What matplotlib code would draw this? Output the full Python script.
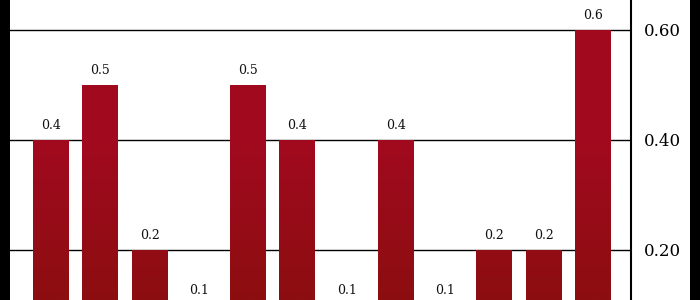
import matplotlib
matplotlib.use("Agg")
import matplotlib.pyplot as plt
import numpy as np
from matplotlib.colors import LinearSegmentedColormap
from matplotlib.patches import Rectangle

values = [0.4, 0.5, 0.2, 0.1, 0.5, 0.4, 0.1, 0.4, 0.1, 0.2, 0.2, 0.6]
labels = ["0.4", "0.5", "0.2", "0.1", "0.5", "0.4", "0.1", "0.4", "0.1", "0.2", "0.2", "0.6"]
yticks = [0.20, 0.40, 0.60]
ytick_labels = ["0.20", "0.40", "0.60"]

plt.rcParams['font.family'] = ['DejaVu Serif']

fig = plt.figure(figsize=(7, 3), dpi=100)
fig.patch.set_facecolor("black")
fig.add_artist(Rectangle((10/700, 0), 680/700, 1, transform=fig.transFigure,
                         facecolor="white", edgecolor="none", zorder=0))

ax = fig.add_axes([10/700, 0, 621/700, 1])
ax.set_facecolor("white")
ylo, yhi = 0.1091, 0.6545
x = np.arange(len(values))
bars = ax.bar(x, values, width=0.73, color="#990C18", zorder=2)

cmap = LinearSegmentedColormap.from_list("g", ["#8C0E10", "#A00A1E", "#A2091F"])
grad = np.linspace(0, 1, 256).reshape(-1, 1)
for b in bars:
    x0, w = b.get_x(), b.get_width()
    im = ax.imshow(grad, cmap=cmap, origin="lower", aspect="auto",
                   extent=(x0, x0 + w, ylo, yhi), zorder=3)
    im.set_clip_path(b)

for xi, v, lab in zip(x, values, labels):
    ax.annotate(lab, (xi, v), xytext=(0, 6), textcoords="offset points",
                ha="center", va="bottom", fontsize=9, color="#111111",
                annotation_clip=False, zorder=4)

ax.set_xlim(-0.832, 11.771)
ax.set_ylim(ylo, yhi)
ax.set_xticks([])
ax.set_yticks(yticks)
ax.set_yticklabels(ytick_labels, fontsize=12)
ax.yaxis.tick_right()
ax.tick_params(axis="y", length=0, pad=9)
ax.grid(axis="y", color="black", linewidth=1, zorder=1)
ax.set_axisbelow(True)
for s in ["top", "left", "bottom"]:
    ax.spines[s].set_visible(False)
ax.spines["right"].set_linewidth(1.5)
ax.spines["right"].set_color("black")

fig.savefig("out.png", dpi=100, facecolor=fig.get_facecolor())
